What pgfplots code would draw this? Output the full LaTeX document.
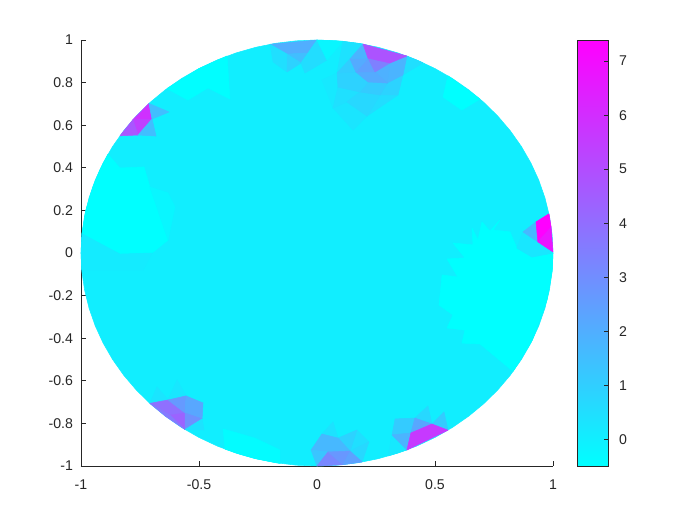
\documentclass[border=0pt]{standalone}
\usepackage{fontspec}
\setmainfont{Liberation Sans}
\usepackage{pgfplots}
\pgfplotsset{compat=1.18}
\usepgfplotslibrary{patchplots}
\definecolor{axgray}{gray}{0.15}
\newcommand{\poly}[3]{\addplot[patch,patch type=polygon,vertex count=#1,shader=flat,point meta={#2}] coordinates {#3};}
\begin{document}
\begin{tikzpicture}
\path[use as bounding box] (0,0) rectangle (525pt,393.75pt);
\begin{axis}[
  at={(60.75pt,44.25pt)}, anchor=south west,
  scale only axis, width=354pt, height=319.5pt,
  xmin=-1, xmax=1, ymin=-1, ymax=1,
  axis x line*=bottom, axis y line*=left,
  axis line style={axgray,line width=0.6pt,-},
  xtick={-1,-0.5,0,0.5,1},
  ytick={-1,-0.8,-0.6,-0.4,-0.2,0,0.2,0.4,0.6,0.8,1},
  tick align=inside, major tick length=3.6pt,
  tick style={axgray,line width=0.6pt},
  tick label style={font=\fontsize{10.6pt}{12pt}\selectfont,text=axgray},
  /pgf/number format/assume math mode=true,
  /pgf/number format/fixed,
  xticklabel style={yshift=-7pt},
  yticklabel style={xshift=-2.5pt},
  clip=false,
  colormap={cool}{rgb255=(0,255,255) rgb255=(255,0,255)},
  point meta min=-0.49, point meta max=7.39,
  colorbar,
  colorbar/width=23.25pt,
  colorbar shift/.style={xshift=12pt},
  colorbar style={
    scale only axis, height=319.5pt,
    ytick={0,1,2,3,4,5,6,7},
    ytick pos=right, yticklabel pos=right,
    axis on top,
    tick align=inside, major tick length=3.6pt,
    tick style={axgray,line width=0.6pt},
    axis line style={axgray,line width=0.6pt},
    tick label style={font=\fontsize{10.6pt}{12pt}\selectfont,text=axgray},
    yticklabel style={xshift=4.5pt},
    /pgf/number format/assume math mode=true,
  },
]
% base disk
\poly{72}{0.02}{(1,0)(.9962,.0872)(.9848,.1736)(.9659,.2588)(.9397,.342)(.9063,.4226)(.866,.5)(.8192,.5736)(.766,.6428)(.7071,.7071)(.6428,.766)(.5736,.8192)(.5,.866)(.4226,.9063)(.342,.9397)(.2588,.9659)(.1736,.9848)(.0872,.9962)(0,1)(-.0872,.9962)(-.1736,.9848)(-.2588,.9659)(-.342,.9397)(-.4226,.9063)(-.5,.866)(-.5736,.8192)(-.6428,.766)(-.7071,.7071)(-.766,.6428)(-.8192,.5736)(-.866,.5)(-.9063,.4226)(-.9397,.342)(-.9659,.2588)(-.9848,.1736)(-.9962,.0872)(-1,0)(-.9962,-.0872)(-.9848,-.1736)(-.9659,-.2588)(-.9397,-.342)(-.9063,-.4226)(-.866,-.5)(-.8192,-.5736)(-.766,-.6428)(-.7071,-.7071)(-.6428,-.766)(-.5736,-.8192)(-.5,-.866)(-.4226,-.9063)(-.342,-.9397)(-.2588,-.9659)(-.1736,-.9848)(-.0872,-.9962)(0,-1)(.0872,-.9962)(.1736,-.9848)(.2588,-.9659)(.342,-.9397)(.4226,-.9063)(.5,-.866)(.5736,-.8192)(.6428,-.766)(.7071,-.7071)(.766,-.6428)(.8192,-.5736)(.866,-.5)(.9063,-.4226)(.9397,-.342)(.9659,-.2588)(.9848,-.1736)(.9962,-.0872)}
% bright areas
\poly{26}{-0.49}{(1,0)(.911,-.019)(.847,.023)(.818,.099)(.746,.108)(.775,.155)(.733,.103)(.699,.146)(.682,.061)(.657,.117)(.661,.038)(.576,.047)(.627,-.023)(.551,-.028)(.597,-.113)(.53,-.103)(.517,-.244)(.576,-.291)(.551,-.352)(.627,-.362)(.614,-.423)(.691,-.427)(.831,-.556)(.913,-.408)(.975,-.22)(.997,-.08)}
\poly{13}{-0.49}{(-.886,.464)(-.835,.399)(-.733,.404)(-.708,.31)(-.631,.061)(-.699,0)(-.835,-.005)(-.996,.09)(-.98,.2)(-.95,.31)(-.92,.39)(-.886,.464)(-.886,.464)}
\poly{4}{-0.2}{(-.708,.31)(-.631,.282)(-.602,.216)(-.631,.061)}
\poly{6}{0.12}{(-.996,.09)(-.835,-.005)(-.699,0)(-.737,-.08)(-.997,-.08)(-1,0)}
\poly{6}{-0.45}{(-.636,.772)(-.5,.866)(-.381,.925)(-.369,.723)(-.462,.775)(-.547,.718)}
\poly{4}{-0.49}{(.555,.832)(.691,.723)(.614,.671)(.534,.732)}
\poly{7}{-0.4}{(-.398,-.826)(-.263,-.869)(-.157,-.925)(-.157,-.988)(-.263,-.965)(-.326,-.945)(-.39,-.921)}
% top left of top
\poly{4}{2.0}{(-.199,.98)(0,1)(-.038,.939)(-.127,.934)}
\poly{3}{1.5}{(-.127,.934)(-.038,.939)(-.068,.892)}
\poly{4}{0.5}{(-.199,.98)(-.127,.934)(-.127,.85)(-.186,.897)}
\poly{3}{0.9}{(-.127,.934)(-.068,.892)(-.127,.85)}
\poly{5}{0.55}{(-.038,.939)(0,1)(.042,.906)(-.051,.845)(-.068,.892)}
\poly{3}{-0.2}{(0,1)(.11,.994)(.042,.906)}
% top right group
\poly{4}{0.4}{(.195,.981)(.14,.911)(.085,.845)(.11,.994)}
\poly{4}{0.2}{(.021,.812)(.085,.845)(.089,.779)(.068,.681)}
\poly{4}{0.3}{(.068,.681)(.127,.709)(.212,.643)(.153,.577)}
\poly{4}{0.45}{(.089,.779)(.182,.756)(.127,.709)(.068,.681)}
\poly{3}{0.55}{(.267,.742)(.343,.742)(.212,.643)}
\poly{4}{0.7}{(.182,.756)(.267,.742)(.212,.643)(.127,.709)}
\poly{4}{0.85}{(.297,.798)(.364,.836)(.343,.742)(.267,.742)}
\poly{4}{1.1}{(.216,.803)(.297,.798)(.267,.742)(.182,.756)}
\poly{5}{0.9}{(.085,.845)(.165,.85)(.216,.803)(.182,.756)(.089,.779)}
\poly{3}{1.0}{(.085,.845)(.14,.911)(.165,.85)}
\poly{3}{0.5}{(.381,.925)(.449,.893)(.364,.836)}
\poly{4}{1.8}{(.309,.892)(.381,.925)(.364,.836)(.297,.798)}
\poly{3}{1.9}{(.246,.85)(.309,.892)(.297,.798)}
\poly{4}{2.1}{(.165,.85)(.246,.85)(.297,.798)(.216,.803)}
\poly{3}{2.4}{(.216,.915)(.246,.85)(.165,.85)}
\poly{3}{2.1}{(.14,.911)(.216,.915)(.165,.85)}
\poly{3}{1.8}{(.195,.981)(.216,.915)(.14,.911)}
\poly{3}{3.4}{(.216,.915)(.309,.892)(.246,.85)}
\poly{4}{4.8}{(.195,.981)(.381,.925)(.309,.892)(.216,.915)}
% upper left purple
\poly{3}{5.85}{(-.712,.702)(-.699,.629)(-.78,.626)}
\poly{3}{5.4}{(-.78,.626)(-.699,.629)(-.758,.554)}
\poly{3}{4.7}{(-.78,.626)(-.758,.554)(-.835,.55)}
\poly{3}{1.5}{(-.712,.702)(-.627,.662)(-.699,.629)}
\poly{3}{1.5}{(-.699,.629)(-.682,.549)(-.758,.554)}
% right magenta
\poly{5}{0.25}{(.873,.099)(.936,.052)(1,0)(.911,-.019)(.847,.023)}
\poly{3}{1.7}{(.873,.099)(.928,.146)(.936,.052)}
\poly{4}{7.39}{(.928,.146)(.983,.184)(.992,.122)(.936,.052)}
\poly{3}{6.7}{(.936,.052)(.992,.122)(1,.005)}
% lower left purple
\poly{3}{0.3}{(-.708,-.706)(-.678,-.629)(-.631,-.69)}
\poly{3}{0.25}{(-.631,-.69)(-.593,-.596)(-.555,-.671)}
\poly{4}{3.9}{(-.708,-.706)(-.631,-.69)(-.559,-.751)(-.623,-.761)}
\poly{3}{4.3}{(-.623,-.761)(-.559,-.751)(-.559,-.829)}
\poly{4}{3.6}{(-.708,-.706)(-.64,-.768)(-.559,-.829)(-.623,-.761)}
\poly{3}{2.6}{(-.631,-.69)(-.555,-.671)(-.559,-.751)}
\poly{4}{2.2}{(-.555,-.671)(-.483,-.704)(-.487,-.779)(-.559,-.751)}
\poly{3}{2.9}{(-.559,-.751)(-.487,-.779)(-.559,-.829)}
\poly{3}{0.4}{(-.559,-.829)(-.487,-.779)(-.479,-.831)}
% bottom groups
\poly{3}{0.4}{(.021,-.85)(.068,-.793)(.089,-.869)}
\poly{3}{0.5}{(.169,-.831)(.22,-.887)(.14,-.93)}
\poly{3}{0.9}{(.089,-.869)(.169,-.831)(.14,-.93)}
\poly{3}{0.7}{(.14,-.93)(.22,-.887)(.191,-.981)}
\poly{5}{1.7}{(-.025,-.925)(.021,-.85)(.089,-.869)(.14,-.93)(.047,-.934)}
\poly{3}{1.3}{(-.025,-.925)(.047,-.934)(0,-1)}
\poly{3}{3.2}{(0,-1)(.047,-.934)(.11,-.994)}
\poly{3}{2.7}{(.047,-.934)(.14,-.93)(.11,-.994)}
\poly{3}{2.4}{(.14,-.93)(.191,-.981)(.11,-.994)}
\poly{3}{0.2}{(.318,-.854)(.381,-.925)(.301,-.953)}
\poly{3}{0.7}{(.415,-.775)(.47,-.718)(.487,-.803)}
\poly{3}{1.1}{(.487,-.803)(.538,-.746)(.555,-.832)}
\poly{4}{1.1}{(.331,-.779)(.415,-.775)(.398,-.845)(.318,-.854)}
\poly{3}{1.8}{(.318,-.854)(.398,-.845)(.381,-.925)}
\poly{3}{2.2}{(.415,-.775)(.487,-.803)(.398,-.845)}
\poly{4}{5.6}{(.398,-.845)(.487,-.803)(.555,-.832)(.381,-.925)}
\end{axis}
\end{tikzpicture}
\end{document}
